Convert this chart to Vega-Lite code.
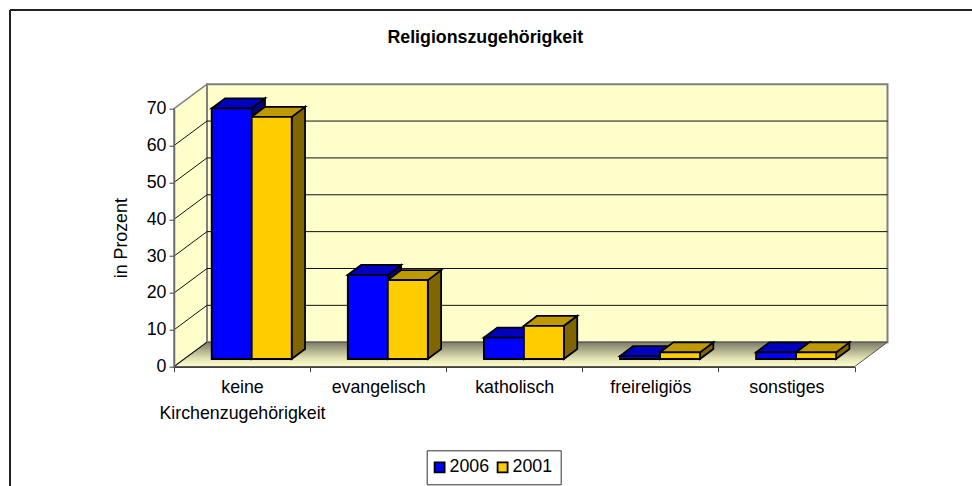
{
"$schema":"https://vega.github.io/schema/vega-lite/v6.json",
"width":680.5,"height":258,
"autosize":{"type":"none"},
"padding":{"left":174,"top":108.7,"right":117.5,"bottom":119.3},
"background":"white",
"title":{"text":"Religionszugehörigkeit","font":"Liberation Sans","fontSize":17.8,"fontWeight":"bold","color":"black","anchor":"middle","dx":-29,"offset":-38},
"config":{"view":{"stroke":null},"axisY":{"labelOverlap":false,"tickCount":8}},
"data":{"values":[
{"category":"keine Kirchenzugehörigkeit","series":"2006","value":68},
{"category":"keine Kirchenzugehörigkeit","series":"2001","value":65.7},
{"category":"evangelisch","series":"2006","value":22.8},
{"category":"evangelisch","series":"2001","value":21.4},
{"category":"katholisch","series":"2006","value":5.8},
{"category":"katholisch","series":"2001","value":9},
{"category":"freireligiös","series":"2006","value":0.8},
{"category":"freireligiös","series":"2001","value":1.8},
{"category":"sonstiges","series":"2006","value":1.8},
{"category":"sonstiges","series":"2001","value":1.8}
]},
"transform":[
{"calculate":"indexof(['keine Kirchenzugehörigkeit','evangelisch','katholisch','freireligiös','sonstiges'],datum.category)","as":"i"},
{"calculate":"datum.i+0.277+(datum.series==='2006'?0:0.294)","as":"x0"},
{"calculate":"datum.x0+0.294","as":"x1"},
{"calculate":"datum.value+2.09","as":"top"},
{"calculate":"2.09","as":"base"},
{"calculate":"datum.category+datum.series","as":"bar"}
],
"layer":[
{"data":{"values":[{"d":0},{"d":1}]},
 "transform":[{"calculate":"datum.d*0.2425","as":"xx"},{"calculate":"datum.d*6.647","as":"yy"},{"calculate":"70+datum.d*6.647","as":"yt"}],
 "mark":{"type":"area","orient":"vertical","fill":"#FFFFCC","stroke":"#808080","strokeWidth":1.5,"opacity":1},
 "encoding":{
  "x":{"field":"xx","type":"quantitative","scale":{"domain":[0,5],"nice":false,"zero":false},
   "axis":{"title":null,"values":[0,1,2,3,4,5],"grid":false,"zindex":1,"labelExpr":"[['keine','Kirchenzugehörigkeit'],'evangelisch','katholisch','freireligiös','sonstiges',''][datum.value]","labelOffset":68,"labelFont":"Liberation Sans","labelFontSize":17.8,"labelColor":"black","labelLineHeight":25.5,"labelPadding":7,"labelFlush":false,"labelBound":false,"labelOverlap":false,"labelAngle":0,"tickColor":"#404040","tickSize":5,"tickWidth":1,"domainColor":"#404040","domainWidth":1.5}},
  "y":{"field":"yy","type":"quantitative","scale":{"domain":[0,70],"nice":false,"zero":false},
   "axis":{"title":"in Prozent","values":[0,10,20,30,40,50,60,70],"tickCount":8,"grid":false,"zindex":1,"labelFont":"Liberation Sans","labelFontSize":17.8,"labelColor":"black","labelPadding":3,"labelOverlap":false,"labelBound":false,"labelFlush":false,"tickColor":"#404040","tickSize":5,"tickWidth":1,"domainColor":"#6a6a6a","domainWidth":1.5,"titleFont":"Liberation Sans","titleFontSize":17.8,"titleFontWeight":"normal","titleColor":"black","titlePadding":16}},
  "y2":{"field":"yt"}}},
{"data":{"values":[{"d":1}]},
 "mark":{"type":"rect","fill":"#FFFFCC","stroke":"#808080","strokeWidth":2,"opacity":1},
 "encoding":{
  "x":{"datum":0.2425,"type":"quantitative","scale":{"domain":[0,5],"nice":false,"zero":false}},"x2":{"datum":5.2425},
  "y":{"datum":6.647,"type":"quantitative","scale":{"domain":[0,70],"nice":false,"zero":false}},"y2":{"datum":76.647}}},
{"data":{"values":[{"d":0},{"d":1}]},
 "transform":[{"calculate":"datum.d*0.2425","as":"xl"},{"calculate":"5+datum.d*0.2425","as":"xr"},{"calculate":"datum.d*6.647","as":"yy"}],
 "mark":{"type":"area","orient":"horizontal","stroke":"#555555","strokeWidth":1,"opacity":1,
  "fill":{"gradient":"linear","x1":0,"y1":1,"x2":0,"y2":0,"stops":[{"offset":0,"color":"#FFFFCC"},{"offset":0.35,"color":"#E0E0B2"},{"offset":1,"color":"#7C7C66"}]}},
 "encoding":{
  "x":{"field":"xl","type":"quantitative","scale":{"domain":[0,5],"nice":false,"zero":false}},"x2":{"field":"xr"},
  "y":{"field":"yy","type":"quantitative","scale":{"domain":[0,70],"nice":false,"zero":false}}}},
{"data":{"values":[{"level":0},{"level":10},{"level":20},{"level":30},{"level":40},{"level":50},{"level":60}]},
 "transform":[{"calculate":"datum.level+6.647","as":"yb"}],
 "mark":{"type":"rule","color":"#111111","strokeWidth":1},
 "encoding":{
  "x":{"datum":0,"type":"quantitative","scale":{"domain":[0,5],"nice":false,"zero":false}},"x2":{"datum":0.2425},
  "y":{"field":"level","type":"quantitative","scale":{"domain":[0,70],"nice":false,"zero":false}},"y2":{"field":"yb"}}},
{"data":{"values":[{"level":10},{"level":20},{"level":30},{"level":40},{"level":50},{"level":60}]},
 "transform":[{"calculate":"datum.level+6.647","as":"yb"}],
 "mark":{"type":"rule","color":"#111111","strokeWidth":1},
 "encoding":{
  "x":{"datum":0.2425,"type":"quantitative","scale":{"domain":[0,5],"nice":false,"zero":false}},"x2":{"datum":5.2425},
  "y":{"field":"yb","type":"quantitative","scale":{"domain":[0,70],"nice":false,"zero":false}}}},
{"transform":[{"calculate":"[0,1]","as":"d"},{"flatten":["d"]},{"calculate":"datum.x1+datum.d*0.0977","as":"sx"},{"calculate":"datum.top+datum.d*2.71","as":"st"},{"calculate":"datum.base+datum.d*2.71","as":"sb"}],
 "mark":{"type":"area","orient":"vertical","stroke":"black","strokeWidth":1.8,"opacity":1},
 "encoding":{
  "x":{"field":"sx","type":"quantitative","scale":{"domain":[0,5],"nice":false,"zero":false}},
  "y":{"field":"st","type":"quantitative","scale":{"domain":[0,70],"nice":false,"zero":false}},"y2":{"field":"sb"},
  "detail":{"field":"bar"},
  "color":{"field":"series","type":"nominal","scale":{"domain":["2006","2001"],"range":["#000080","#806600"]},"legend":null}}},
{"transform":[{"calculate":"[0,1]","as":"d"},{"flatten":["d"]},{"calculate":"datum.x0+datum.d*0.0977","as":"tl"},{"calculate":"datum.x1+datum.d*0.0977","as":"tr"},{"calculate":"datum.top+datum.d*2.71","as":"ty"}],
 "mark":{"type":"area","orient":"horizontal","stroke":"black","strokeWidth":1.8,"opacity":1},
 "encoding":{
  "x":{"field":"tl","type":"quantitative","scale":{"domain":[0,5],"nice":false,"zero":false}},"x2":{"field":"tr"},
  "y":{"field":"ty","type":"quantitative","scale":{"domain":[0,70],"nice":false,"zero":false}},
  "detail":{"field":"bar"},
  "color":{"field":"series","type":"nominal","scale":{"domain":["2006","2001"],"range":["#0000BF","#BF9900"]},"legend":null}}},
{"mark":{"type":"rect","stroke":"black","strokeWidth":1.8,"opacity":1},
 "encoding":{
  "x":{"field":"x0","type":"quantitative","scale":{"domain":[0,5],"nice":false,"zero":false}},"x2":{"field":"x1"},
  "y":{"field":"top","type":"quantitative","scale":{"domain":[0,70],"nice":false,"zero":false}},"y2":{"field":"base"},
  "color":{"field":"series","type":"nominal","scale":{"domain":["2006","2001"],"range":["#0000FF","#FFCC00"]},
   "legend":{"title":null,"orient":"none","legendX":252.7,"legendY":341.6,"direction":"horizontal","columns":2,"columnPadding":4,"padding":8,"strokeColor":"#333333","fillColor":"white","symbolType":"square","symbolSize":100,"symbolOffset":-4,"symbolStrokeColor":"black","symbolStrokeWidth":1.8,"labelFont":"Liberation Sans","labelFontSize":17.8,"labelColor":"black","labelOffset":1}}}},
{"data":{"values":[{"edge":"top"}]},
 "mark":{"type":"rule","color":"#222222","strokeWidth":2},
 "encoding":{
  "x":{"datum":-1.205,"type":"quantitative","scale":{"domain":[0,5],"nice":false,"zero":false}},"x2":{"datum":5.87},
  "y":{"datum":96.8,"type":"quantitative","scale":{"domain":[0,70],"nice":false,"zero":false}}}},
{"data":{"values":[{"edge":"left"}]},
 "mark":{"type":"rule","color":"#222222","strokeWidth":2},
 "encoding":{
  "x":{"datum":-1.205,"type":"quantitative","scale":{"domain":[0,5],"nice":false,"zero":false}},
  "y":{"datum":96.8,"type":"quantitative","scale":{"domain":[0,70],"nice":false,"zero":false}},"y2":{"datum":-33}}}
],
"resolve":{"scale":{"color":"independent"}}
}
